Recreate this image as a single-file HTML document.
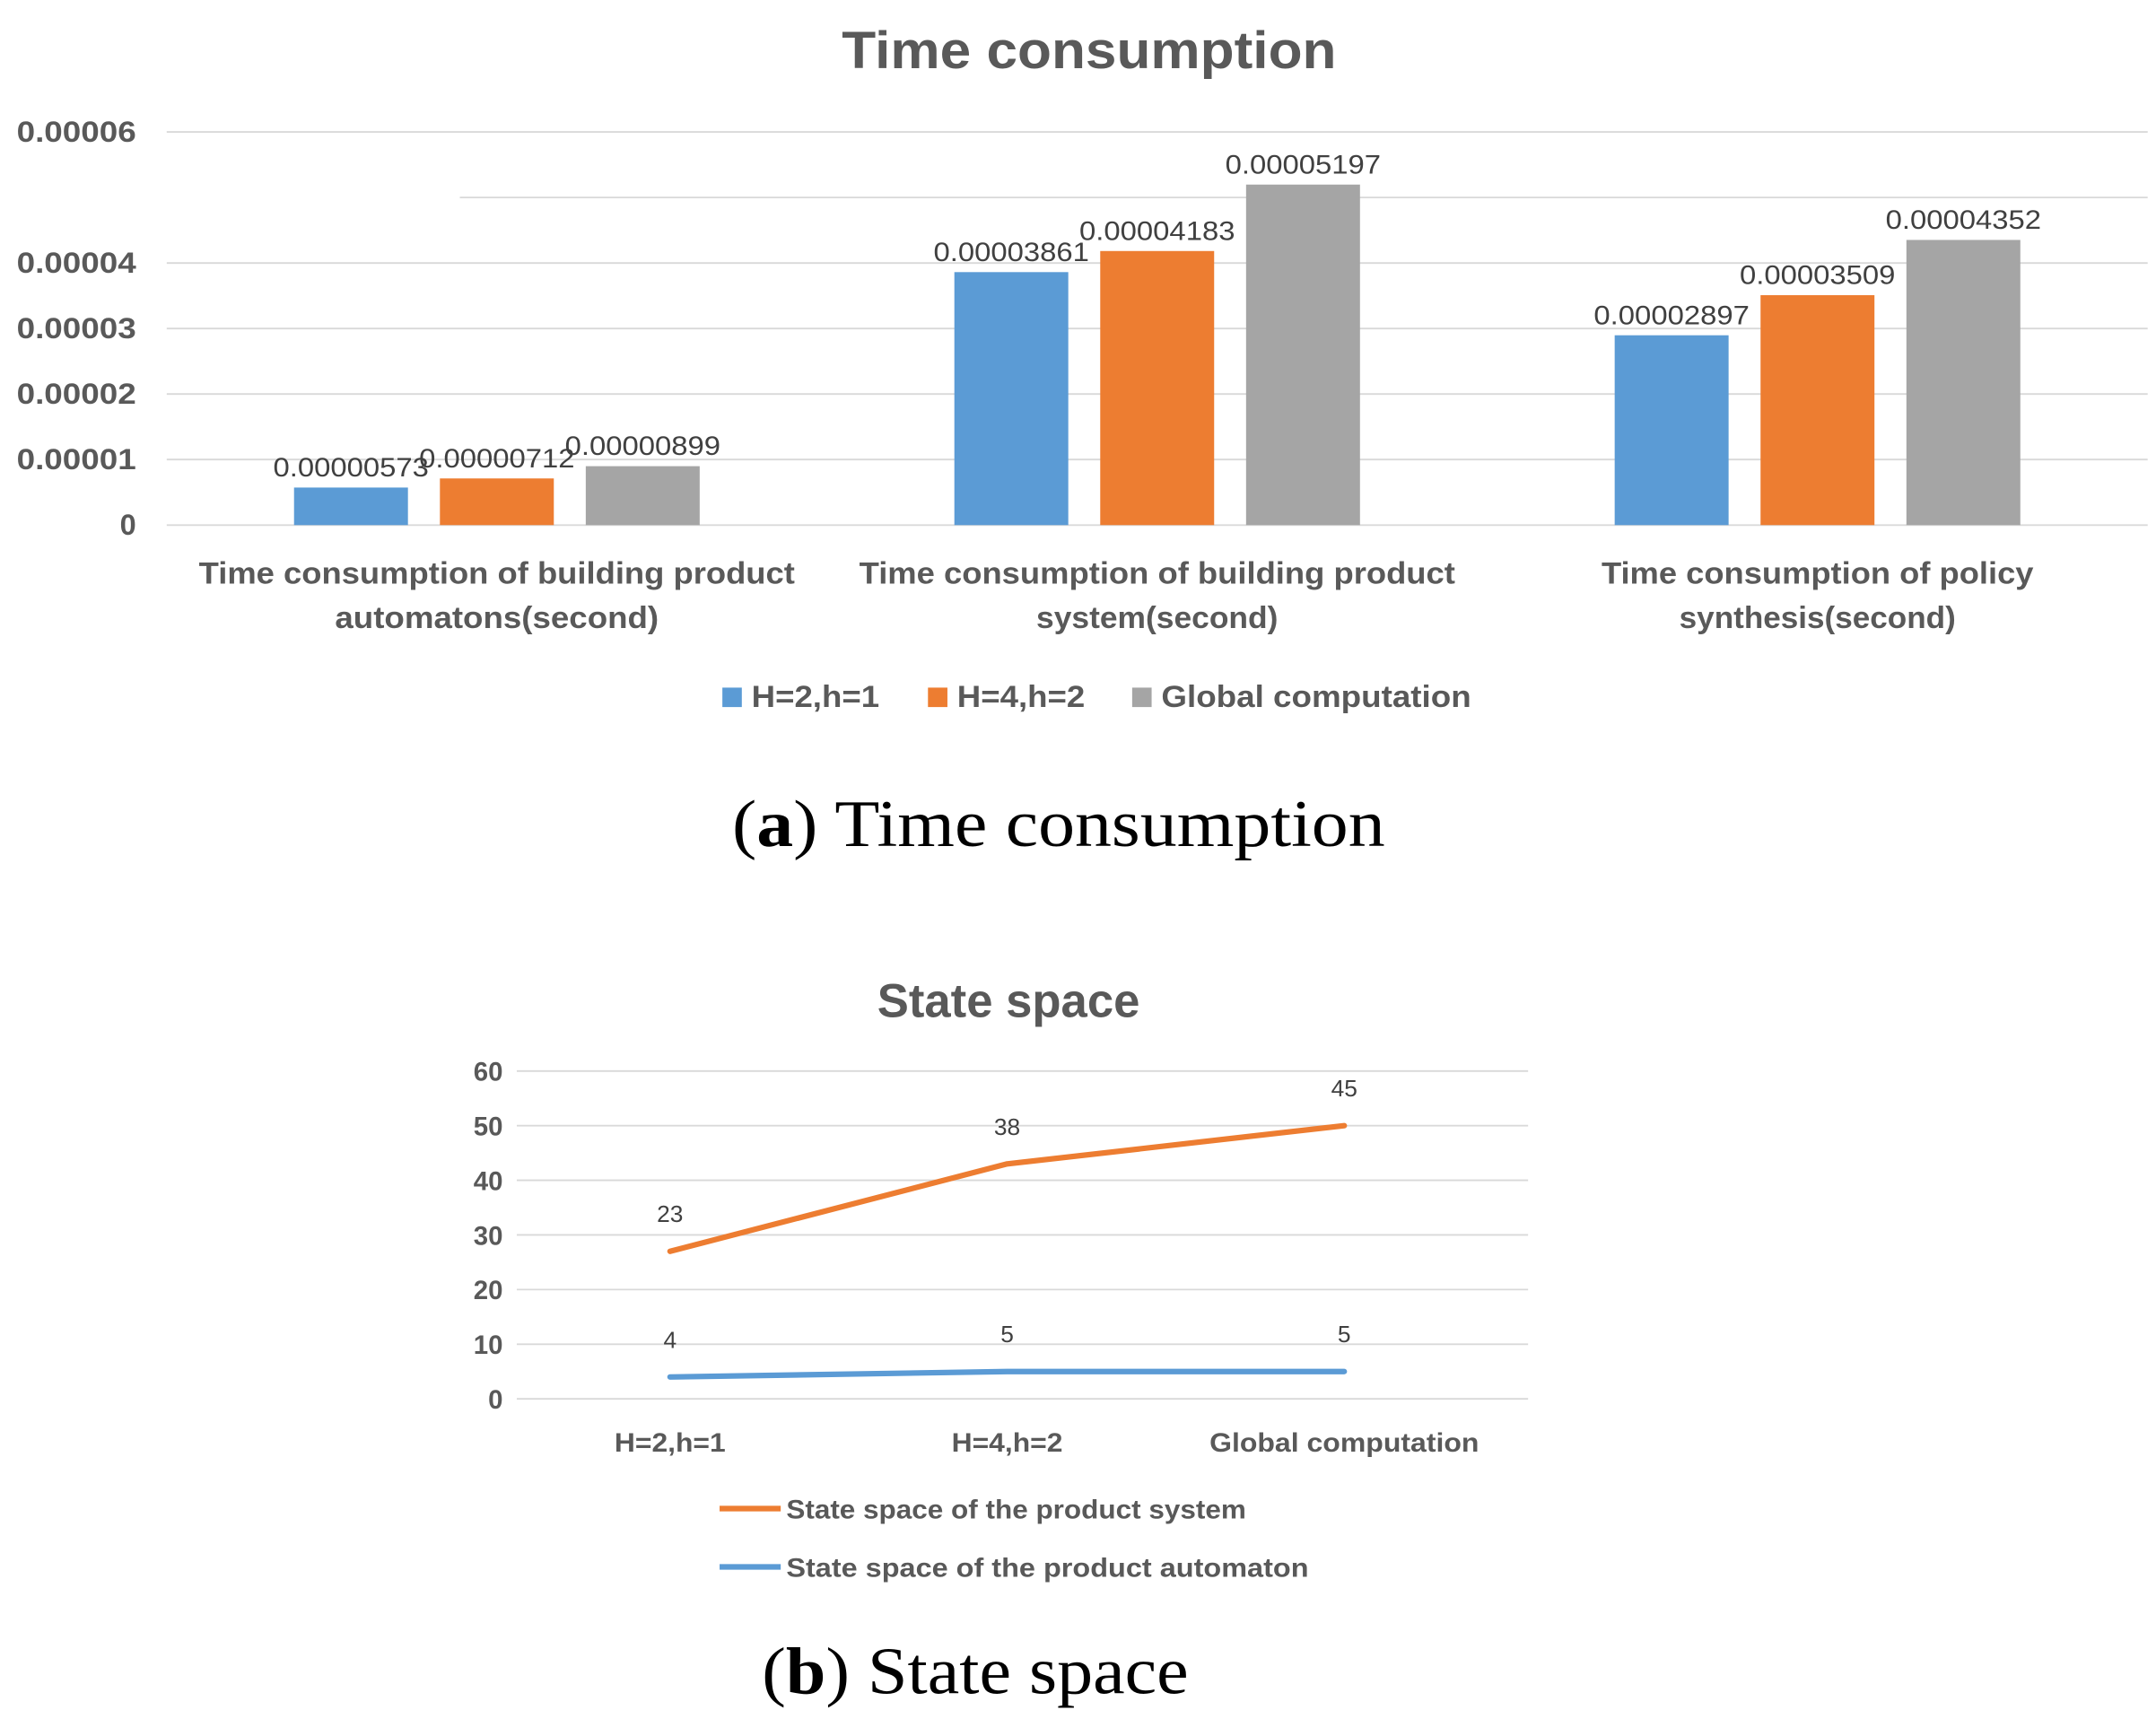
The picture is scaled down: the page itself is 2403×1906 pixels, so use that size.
<!DOCTYPE html>
<html><head><meta charset="utf-8"><style>
html,body{margin:0;padding:0;background:#fff;}
svg{display:block;}
</style></head><body>
<svg id="fig" width="2403" height="1906" viewBox="0 0 1552 1231" preserveAspectRatio="none" xmlns="http://www.w3.org/2000/svg" font-family="Liberation Sans, sans-serif">
<rect width="1552" height="1231" fill="#fff"/>
<g id="chartA"></g>
<g id="chartB"></g>
<text x="762" y="609" text-anchor="middle" font-family="Liberation Serif, serif" font-size="48" fill="#000" textLength="470" lengthAdjust="spacingAndGlyphs">(<tspan font-weight="bold">a</tspan>) Time consumption</text>
<text x="702" y="1219" text-anchor="middle" font-family="Liberation Serif, serif" font-size="48" fill="#000" textLength="307" lengthAdjust="spacingAndGlyphs">(<tspan font-weight="bold">b</tspan>) State space</text>
</svg>
<script>
// ---- Chart A data ----
const catsA = ["Time consumption of building product|automatons(second)", "Time consumption of building product|system(second)", "Time consumption of policy|synthesis(second)"];
const seriesNamesA = ["H=2,h=1", "H=4,h=2", "Global computation"];
const s1 = [0.00000573, 0.00003861, 0.00002897];
const s2 = [0.00000712, 0.00004183, 0.00003509];
const s3 = [0.00000899, 0.00005197, 0.00004352];
const labelsA1 = ["0.00000573", "0.00003861", "0.00002897"];
const labelsA2 = ["0.00000712", "0.00004183", "0.00003509"];
const labelsA3 = ["0.00000899", "0.00005197", "0.00004352"];
const ticksA = [0, 0.00001, 0.00002, 0.00003, 0.00004, 0.00005, 0.00006];
const tickLabelsA = ["0", "0.00001", "0.00002", "0.00003", "0.00004", "", "0.00006"];
// ---- Chart B data ----
const catsB = ["H=2,h=1", "H=4,h=2", "Global computation"];
const sysVals = [27, 43, 50];
const sysLabels = ["23", "38", "45"];
const autVals = [4, 5, 5];
const autLabels = ["4", "5", "5"];
const ticksB = [0, 10, 20, 30, 40, 50, 60];

const NS = "http://www.w3.org/2000/svg";
function mk(parent, tag, attrs, text){
  const e = document.createElementNS(NS, tag);
  for (const k in attrs) e.setAttribute(k, attrs[k]);
  if (text !== undefined) e.textContent = text;
  parent.appendChild(e);
  return e;
}
const colors = ["#5b9bd5", "#ed7d31", "#a5a5a5"];

// Chart A
(function(){
  const g = document.getElementById("chartA");
  const x0 = 120, x1 = 1546, yBase = 378, yTop = 95;
  const yA = v => yBase - (v / 0.00006) * (yBase - yTop);
  const bandW = (x1 - x0) / catsA.length;
  const cx = i => x0 + bandW * (i + 0.5);
  let t = mk(g, "text", {x: 784, y: 49, "text-anchor": "middle", "font-size": 38, "font-weight": "bold", fill: "#595959", textLength: 356, lengthAdjust: "spacingAndGlyphs"}, "Time consumption");
  
  
  ticksA.forEach((v, i) => {
    const gl = mk(g, "line", {x1: (i === 5 ? 331 : x0), x2: x1, y1: yA(v), y2: yA(v), stroke: "#d9d9d9", "stroke-width": 1.2});
    
    
    if (tickLabelsA[i]) {
      const attrs = {x: 98, y: yA(v) + 7, "text-anchor": "end", "font-size": 21, "font-weight": "bold", fill: "#595959"};
      if (tickLabelsA[i].length > 3) { attrs.textLength = 86; attrs.lengthAdjust = "spacingAndGlyphs"; }
      const tl = mk(g, "text", attrs, tickLabelsA[i]);
      
      
    }
  });
  const series = [s1, s2, s3];
  const labs = [labelsA1, labelsA2, labelsA3];
  const bw = 82, step = 105;
  series.forEach((s, si) => {
    s.forEach((v, ci) => {
      const bx = cx(ci) + (si - 1) * step - bw / 2;
      const r = mk(g, "rect", {x: bx, y: yA(v), width: bw, height: yBase - yA(v), fill: colors[si]});
      
      
      const vl = mk(g, "text", {x: bx + bw / 2, y: yA(v) - 8, "text-anchor": "middle", "font-size": 19, fill: "#404040", textLength: 112, lengthAdjust: "spacingAndGlyphs"}, labs[si][ci]);
      
      
    });
  });
  catsA.forEach((c, i) => {
    const parts = c.split("|");
    const lens = [[429, 233], [429, 174], [311, 199]][i];
    parts.forEach((p, j) => {
      const cl = mk(g, "text", {x: cx(i), y: 420 + j * 32, "text-anchor": "middle", "font-size": 22, "font-weight": "bold", fill: "#595959", textLength: lens[j], lengthAdjust: "spacingAndGlyphs"}, p);
      
      
    });
  });
  const legX = [520, 668, 815], legW = [92, 92, 223];
  seriesNamesA.forEach((n, i) => {
    const sq = mk(g, "rect", {x: legX[i], y: 495, width: 14, height: 14, fill: colors[i]});
    
    
    const lt = mk(g, "text", {x: legX[i] + 21, y: 509, "font-size": 22, "font-weight": "bold", fill: "#595959", textLength: legW[i], lengthAdjust: "spacingAndGlyphs"}, n);
    
    
  });
})();

// Chart B
(function(){
  const g = document.getElementById("chartB");
  const x0 = 372, x1 = 1100, yBase = 1007, yTop = 771;
  const yB = v => yBase - (v / 60) * (yBase - yTop);
  const bandW = (x1 - x0) / catsB.length;
  const cx = i => x0 + bandW * (i + 0.5) - 11;
  let t = mk(g, "text", {x: 726, y: 732, "text-anchor": "middle", "font-size": 34, "font-weight": "bold", fill: "#595959", textLength: 189, lengthAdjust: "spacingAndGlyphs"}, "State space");
  
  
  ticksB.forEach(v => {
    const gl = mk(g, "line", {x1: x0, x2: x1, y1: yB(v), y2: yB(v), stroke: "#d9d9d9", "stroke-width": 1.2});
    
    
    const tl = mk(g, "text", {x: 362, y: yB(v) + 7, "text-anchor": "end", "font-size": 19, "font-weight": "bold", fill: "#595959"}, String(v));
    
    
  });
  function line(vals, labs, color, name){
    const pts = vals.map((v, i) => cx(i) + "," + yB(v)).join(" ");
    const pl = mk(g, "polyline", {points: pts, fill: "none", stroke: color, "stroke-width": 4, "stroke-linecap": "round", "stroke-linejoin": "round"});
    
    
    vals.forEach((v, i) => {
      const vl = mk(g, "text", {x: cx(i), y: yB(v) - 21, "text-anchor": "middle", "font-size": 17, fill: "#404040"}, labs[i]);
      
      
    });
  }
  line(sysVals, sysLabels, "#ed7d31", "line-product-system");
  line(autVals, autLabels, "#5b9bd5", "line-product-automaton");
  const cw = [80, 80, 194];
  catsB.forEach((c, i) => {
    const cl = mk(g, "text", {x: cx(i), y: 1045, "text-anchor": "middle", "font-size": 19, "font-weight": "bold", fill: "#595959", textLength: cw[i], lengthAdjust: "spacingAndGlyphs"}, c);
    
    
  });
  const legs = [["State space of the product system", "#ed7d31", 1086, 331], ["State space of the product  automaton", "#5b9bd5", 1128, 376]];
  legs.forEach(l => {
    const ln = mk(g, "line", {x1: 518, x2: 562, y1: l[2], y2: l[2], stroke: l[1], "stroke-width": 4});
    
    
    const lt = mk(g, "text", {x: 566, y: l[2] + 7, "font-size": 19, "font-weight": "bold", fill: "#595959", textLength: l[3], lengthAdjust: "spacingAndGlyphs", "xml:space": "preserve"}, l[0]);
    
    
  });
})();
</script>
</body></html>
